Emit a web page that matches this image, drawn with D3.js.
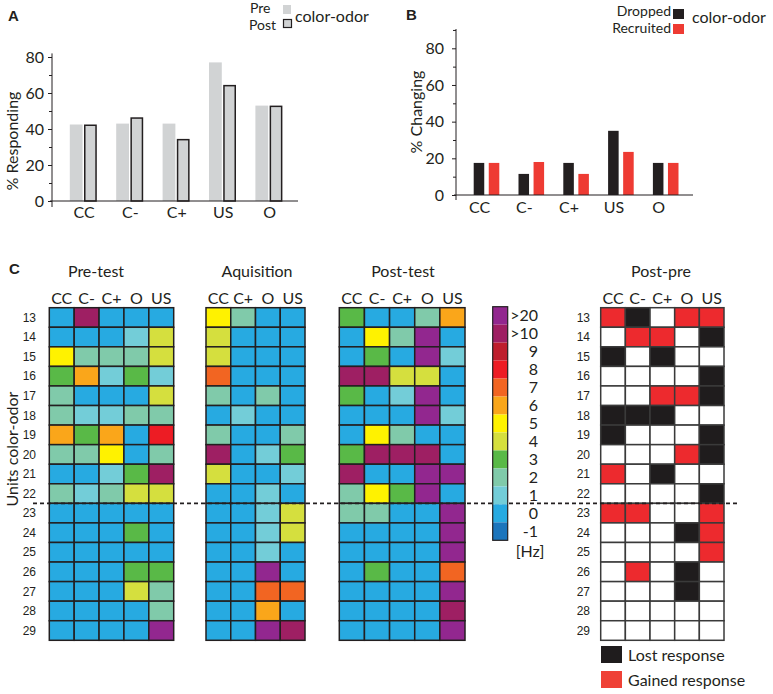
<!DOCTYPE html>
<html><head><meta charset="utf-8">
<script src="https://cdn.jsdelivr.net/npm/d3@7"></script>
<style>
body{margin:0;background:#fff}
svg{display:block}
text{font-family:Lato,"Open Sans",sans-serif;fill:#231f20}
</style>
</head><body>
<svg id="chart" width="773" height="694"></svg>
<script>
// ---------- DATA ----------
const categories = ["CC","C-","C+","US","O"];
const prePct = [42.5, 43, 43, 77, 53];
const postPct = [42.5, 46.5, 34.5, 64.5, 53];
const droppedPct = [17.5, 11.5, 17.5, 35, 17.5];
const recruitedPct = [17.5, 18, 11.5, 23.5, 17.5];
const yTicksA = [0, 20, 40, 60, 80];
const yMinorA = [10, 30, 50, 70];
const yTicksB = [0, 20, 40, 60, 80];
const yMinorB = [10, 30, 50, 70, 90];

const units = [13,14,15,16,17,18,19,20,21,22,23,24,25,26,27,28,29];
const preCols = ["CC","C-","C+","O","US"];
const acqCols = ["CC","C+","O","US"];
const postCols = ["CC","C-","C+","O","US"];
const diffCols = ["CC","C-","C+","O","US"];
// firing-rate bins: 10 means ">10", 20 means ">20"
const preTest = [
  [0,10,0,0,0],[0,0,0,1,4],[5,2,2,2,4],[3,6,1,3,1],[2,0,0,0,4],
  [2,1,1,2,2],[6,3,6,0,8],[2,2,5,0,2],[0,0,1,3,10],[2,1,2,4,4],
  [0,0,0,0,0],[0,0,0,3,0],[0,0,0,0,0],[0,0,0,3,3],[0,0,0,4,2],
  [0,0,0,0,2],[0,0,0,0,20]
];
const acquisition = [
  [5,2,0,0],[4,0,0,0],[4,0,0,0],[7,0,0,0],[2,0,2,0],
  [0,1,0,0],[2,0,0,2],[10,0,1,3],[4,0,0,1],[0,0,1,0],
  [0,0,1,4],[0,0,1,4],[0,0,1,0],[0,0,20,0],[0,0,7,7],
  [0,0,6,0],[0,0,20,10]
];
const postTest = [
  [3,0,0,2,6],[0,5,2,20,0],[0,3,0,20,1],[10,10,4,4,0],[3,0,1,20,0],
  [0,0,0,20,1],[0,5,2,0,0],[3,10,10,10,0],[10,0,0,20,20],[2,5,3,20,0],
  [2,2,0,0,20],[0,0,0,0,20],[0,0,0,0,20],[0,3,0,0,7],[0,0,0,0,20],
  [0,0,0,0,10],[0,0,0,0,20]
];
// post - pre: -1 lost response, 1 gained response, 0 no change
const postPre = [
  [1,-1,0,1,1],[0,1,1,0,-1],[-1,0,-1,0,0],[0,0,0,0,-1],[0,0,1,1,-1],
  [-1,-1,-1,0,0],[-1,0,0,0,-1],[0,0,0,1,-1],[1,0,-1,0,0],[0,0,0,0,-1],
  [1,1,0,0,1],[0,0,0,-1,1],[0,0,0,0,1],[0,1,0,-1,0],[0,0,0,-1,0],
  [0,0,0,0,0],[0,0,0,0,0]
];
const binLabels = [">20",">10","9","8","7","6","5","4","3","2","1","0","-1"];
const binColors = ["#92278F","#9E1F63","#BE1E2D","#ED1C24","#F26522","#FAA61A",
                   "#FFF200","#D5DF3E","#59B947","#80CAAA","#73CDD8","#27AAE1","#1C75BC"];

// ---------- DRAW ----------
const svg = d3.select("#chart");
const INK = "#231f20";
const GREY = "#D1D3D4";
const RED = "#EE3B33";

function styleAxis(g, fs) {
  g.selectAll("text").attr("font-size", fs).style("fill", INK);
  g.selectAll("line").attr("stroke", INK).attr("stroke-width", 1);
}

// ===== Panel A =====
const gA = svg.append("g");
const xA = d3.scaleBand(categories, [60.8, 292.8]);
const xAin = d3.scaleBand(["pre","post"], [9, 36]).paddingInner(0.1);
const yA = d3.scaleLinear([0, 80], [201, 57]);

gA.selectAll("rect.pre").data(categories).join("rect").attr("class","pre")
  .attr("x", d => xA(d) + xAin("pre")).attr("width", xAin.bandwidth())
  .attr("y", (d,i) => yA(prePct[i])).attr("height", (d,i) => yA(0) - yA(prePct[i]))
  .attr("fill", GREY);
gA.selectAll("rect.post").data(categories).join("rect").attr("class","post")
  .attr("x", d => xA(d) + xAin("post") + 0.75).attr("width", xAin.bandwidth() - 1.5)
  .attr("y", (d,i) => yA(postPct[i]) + 0.75).attr("height", (d,i) => yA(0) - yA(postPct[i]) - 0.75)
  .attr("fill", GREY).attr("stroke", INK).attr("stroke-width", 1.5);

gA.append("g").attr("transform","translate(52,0)")
  .call(d3.axisLeft(yA).tickValues(yTicksA).tickSize(4).tickPadding(4))
  .call(g => g.select(".domain").remove()).call(g => styleAxis(g, 16));
gA.append("g").attr("transform","translate(52,0)")
  .call(d3.axisLeft(yA).tickValues(yMinorA).tickSize(3).tickFormat(""))
  .call(g => g.select(".domain").remove()).call(g => styleAxis(g, 16));
gA.append("line").attr("x1",52).attr("x2",52).attr("y1",yA(82)).attr("y2",yA(0)+6).attr("stroke",INK);
gA.append("line").attr("x1",50).attr("x2",298).attr("y1",yA(0)).attr("y2",yA(0)).attr("stroke",INK);
gA.append("g").attr("transform",`translate(0,${yA(0)})`)
  .call(d3.axisBottom(xA).tickSize(0).tickPadding(6))
  .call(g => g.select(".domain").remove()).call(g => styleAxis(g, 16));
gA.append("text").attr("transform","translate(18,141) rotate(-90)").attr("text-anchor","middle")
  .attr("font-size",16).text("% Responding");
gA.append("text").attr("x",8).attr("y",21).attr("font-size",15).attr("font-weight","bold")
  .style("font-family","'Liberation Sans',Arial,sans-serif").text("A");
// legend A
gA.append("text").attr("x",250).attr("y",13).attr("font-size",14).text("Pre");
gA.append("rect").attr("x",283).attr("y",5).attr("width",8).attr("height",9).attr("fill",GREY);
gA.append("text").attr("x",249).attr("y",30).attr("font-size",14).text("Post");
gA.append("rect").attr("x",283.5).attr("y",19.5).attr("width",8).attr("height",8).attr("fill",GREY).attr("stroke",INK).attr("stroke-width",1.2);
gA.append("text").attr("x",295).attr("y",22).attr("font-size",16).text("color-odor");

// ===== Panel B =====
const gB = svg.append("g");
const xB = d3.scaleBand(categories, [464.1, 688.1]);
const xBin = d3.scaleBand(["dropped","recruited"], [9.6, 35.2]).paddingInner(0.3);
const yB = d3.scaleLinear([0, 80], [195, 48.3]);
gB.selectAll("rect.d").data(categories).join("rect").attr("class","d")
  .attr("x", d => xB(d) + xBin("dropped")).attr("width", xBin.bandwidth())
  .attr("y", (d,i) => yB(droppedPct[i])).attr("height", (d,i) => yB(0) - yB(droppedPct[i]))
  .attr("fill", INK);
gB.selectAll("rect.r").data(categories).join("rect").attr("class","r")
  .attr("x", d => xB(d) + xBin("recruited")).attr("width", xBin.bandwidth())
  .attr("y", (d,i) => yB(recruitedPct[i])).attr("height", (d,i) => yB(0) - yB(recruitedPct[i]))
  .attr("fill", RED);
gB.append("g").attr("transform","translate(456,0)")
  .call(d3.axisLeft(yB).tickValues(yTicksB).tickSize(4).tickPadding(8))
  .call(g => g.select(".domain").remove()).call(g => styleAxis(g, 16));
gB.append("g").attr("transform","translate(456,0)")
  .call(d3.axisLeft(yB).tickValues(yMinorB).tickSize(3).tickFormat(""))
  .call(g => g.select(".domain").remove()).call(g => styleAxis(g, 16));
gB.append("line").attr("x1",456).attr("x2",456).attr("y1",29).attr("y2",yB(0)+5).attr("stroke",INK);
gB.append("line").attr("x1",454).attr("x2",693).attr("y1",yB(0)).attr("y2",yB(0)).attr("stroke",INK);
gB.append("g").attr("transform",`translate(-7,${yB(0)})`)
  .call(d3.axisBottom(xB).tickSize(0).tickPadding(7))
  .call(g => g.select(".domain").remove()).call(g => styleAxis(g, 16));
gB.append("text").attr("transform","translate(422,112) rotate(-90)").attr("text-anchor","middle")
  .attr("font-size",16).text("% Changing");
gB.append("text").attr("x",406).attr("y",20).attr("font-size",15).attr("font-weight","bold")
  .style("font-family","'Liberation Sans',Arial,sans-serif").text("B");
gB.append("text").attr("x",671).attr("y",16).attr("text-anchor","end").attr("font-size",14).text("Dropped");
gB.append("rect").attr("x",673).attr("y",9).attr("width",11).attr("height",10).attr("fill",INK);
gB.append("text").attr("x",671).attr("y",33).attr("text-anchor","end").attr("font-size",14).text("Recruited");
gB.append("rect").attr("x",673).attr("y",24).attr("width",11).attr("height",10).attr("fill",RED);
gB.append("text").attr("x",692).attr("y",23).attr("font-size",16).text("color-odor");

// ===== Panel C =====
const gC = svg.append("g");
gC.append("text").attr("x",9).attr("y",274).attr("font-size",15).attr("font-weight","bold")
  .style("font-family","'Liberation Sans',Arial,sans-serif").text("C");
const yRows = d3.scaleBand(units, [307.7, 640.3]);
const binColor = d3.scaleOrdinal(binLabels, binColors);
const toBin = v => v === 20 ? ">20" : v === 10 ? ">10" : String(v);
const diffColor = v => v === -1 ? "#1f1c1d" : v === 1 ? "#ED2A2E" : "#ffffff";

function grid(cols, data, x0, x1, fill, stroke, title, titleX) {
  const g = gC.append("g");
  const x = d3.scaleBand(cols, [x0, x1]);
  const cells = [];
  data.forEach((row, r) => row.forEach((v, c) => cells.push({u: units[r], c: cols[c], v})));
  g.selectAll("rect").data(cells).join("rect")
    .attr("x", d => x(d.c)).attr("y", d => yRows(d.u))
    .attr("width", x.bandwidth()).attr("height", yRows.bandwidth())
    .attr("fill", d => fill(d.v)).attr("stroke", stroke).attr("stroke-width", 1.5);
  g.selectAll("text.col").data(cols).join("text").attr("class","col")
    .attr("x", d => x(d) + x.bandwidth()/2).attr("y", 304).attr("text-anchor","middle")
    .attr("font-size", 16).text(d => d);
  g.append("text").attr("x", titleX).attr("y", 277).attr("text-anchor","middle")
    .attr("font-size", 16).text(title);
}
function rowLabels(xr) {
  gC.selectAll(null).data(units).join("text")
    .attr("x", xr).attr("y", d => yRows(d) + yRows.bandwidth()/2).attr("dy","0.35em")
    .attr("text-anchor","end").attr("font-size",12)
    .style("font-family","'Liberation Sans',Arial,sans-serif").text(d => d);
}

grid(preCols, preTest, 49.3, 173.7, v => binColor(toBin(v)), INK, "Pre-test", 96);
grid(acqCols, acquisition, 206, 305, v => binColor(toBin(v)), INK, "Aquisition", 257);
grid(postCols, postTest, 339.3, 465, v => binColor(toBin(v)), INK, "Post-test", 403);
grid(diffCols, postPre, 600.7, 724, diffColor, "#3a3a3a", "Post-pre", 661);
rowLabels(36);
rowLabels(590);

gC.append("text").attr("transform","translate(18,449) rotate(-90)").attr("text-anchor","middle")
  .attr("font-size",16).text("Units color-odor");

// dashed separator between rows 22 and 23
const ySep = yRows(23);
gC.append("line").attr("x1",33).attr("x2",737).attr("y1",ySep).attr("y2",ySep)
  .attr("stroke",INK).attr("stroke-width",1.6).attr("stroke-dasharray","4,3");

// colour bar
const yBar = d3.scaleBand(binLabels, [306.7, 540.3]);
gC.selectAll("rect.cb").data(binLabels).join("rect").attr("class","cb")
  .attr("x",492.7).attr("width",15).attr("y", d => yBar(d)).attr("height", yBar.bandwidth())
  .attr("fill", d => binColor(d));
gC.append("rect").attr("x",492.7).attr("y",306.7).attr("width",15).attr("height",233.6)
  .attr("fill","none").attr("stroke",INK).attr("stroke-width",1.2);
gC.selectAll("text.cb").data(binLabels).join("text").attr("class","cb")
  .attr("x",538).attr("y", d => yBar(d) + yBar.bandwidth()/2).attr("dy","0.35em")
  .attr("text-anchor","end").attr("font-size",16).text(d => d);
gC.append("text").attr("x",530).attr("y",557).attr("text-anchor","middle").attr("font-size",16).text("[Hz]");

// Post-pre legend
gC.append("rect").attr("x",601).attr("y",646).attr("width",21).attr("height",17).attr("fill","#1f1c1d");
gC.append("text").attr("x",628).attr("y",661).attr("font-size",16).text("Lost response");
gC.append("rect").attr("x",601).attr("y",671).attr("width",21).attr("height",17).attr("fill","#EF4136");
gC.append("text").attr("x",628).attr("y",686).attr("font-size",16).text("Gained response");
</script>
</body></html>
